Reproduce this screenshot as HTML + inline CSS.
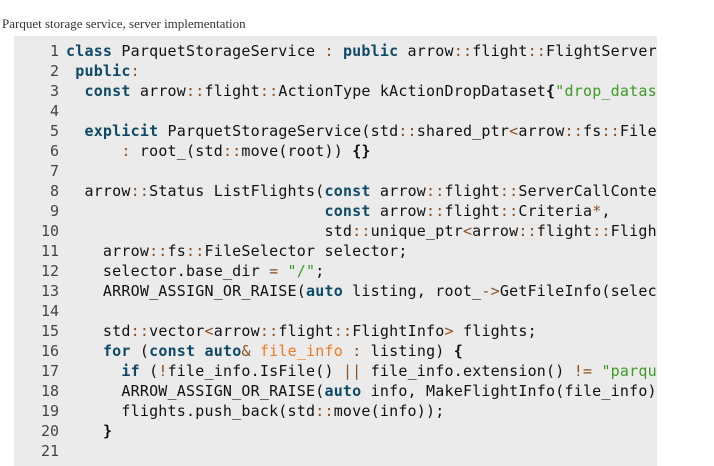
<!DOCTYPE html>
<html><head><meta charset="utf-8"><style>
html,body{margin:0;padding:0;background:#fff;width:714px;height:457px;overflow:hidden}
.cap{position:absolute;left:2px;top:16px;font:13px "Liberation Serif",serif;color:#333;white-space:nowrap}
.code{position:absolute;left:14px;top:36px;width:643px;height:430px;background:#ebebeb;overflow:hidden}
pre{margin:0;position:absolute;left:0;top:5px;font:15px/20px "DejaVu Sans Mono",monospace;letter-spacing:0.2px;color:#111;white-space:pre}
.n{display:inline-block;width:45px;text-align:right;color:#444;margin-right:7px;letter-spacing:0}
.k{color:#0e4a66;font-weight:bold}
.o{color:#8a4f22}
.s{color:#3f9a24}
.v{color:#f07a1f}
.b{font-weight:bold}
</style></head><body>
<div class="cap">Parquet storage service, server implementation</div>
<div class="code"><pre><span class="n">1</span><span class="k">class</span> ParquetStorageService <span class="o">:</span> <span class="k">public</span> arrow<span class="o">::</span>flight<span class="o">::</span>FlightServerBase <span class="b">{</span>
<span class="n">2</span> <span class="k">public</span><span class="o">:</span>
<span class="n">3</span>  <span class="k">const</span> arrow<span class="o">::</span>flight<span class="o">::</span>ActionType kActionDropDataset<span class="b">{</span><span class="s">"drop_dataset"</span>
<span class="n">4</span>
<span class="n">5</span>  <span class="k">explicit</span> ParquetStorageService(std<span class="o">::</span>shared_ptr<span class="o">&lt;</span>arrow<span class="o">::</span>fs<span class="o">::</span>FileSystem
<span class="n">6</span>      <span class="o">:</span> root_(std<span class="o">::</span>move(root)) <span class="b">{}</span>
<span class="n">7</span>
<span class="n">8</span>  arrow<span class="o">::</span>Status ListFlights(<span class="k">const</span> arrow<span class="o">::</span>flight<span class="o">::</span>ServerCallContext
<span class="n">9</span>                            <span class="k">const</span> arrow<span class="o">::</span>flight<span class="o">::</span>Criteria<span class="o">*</span>,
<span class="n">10</span>                            std<span class="o">::</span>unique_ptr<span class="o">&lt;</span>arrow<span class="o">::</span>flight<span class="o">::</span>FlightListing
<span class="n">11</span>    arrow<span class="o">::</span>fs<span class="o">::</span>FileSelector selector;
<span class="n">12</span>    selector.base_dir <span class="o">=</span> <span class="s">"/"</span>;
<span class="n">13</span>    ARROW_ASSIGN_OR_RAISE(<span class="k">auto</span> listing, root_<span class="o">-&gt;</span>GetFileInfo(selector
<span class="n">14</span>
<span class="n">15</span>    std<span class="o">::</span>vector<span class="o">&lt;</span>arrow<span class="o">::</span>flight<span class="o">::</span>FlightInfo<span class="o">&gt;</span> flights;
<span class="n">16</span>    <span class="k">for</span> (<span class="k">const</span> <span class="k">auto</span><span class="o">&amp;</span> <span class="v">file_info</span> <span class="o">:</span> listing) <span class="b">{</span>
<span class="n">17</span>      <span class="k">if</span> (<span class="o">!</span>file_info.IsFile() <span class="o">||</span> file_info.extension() <span class="o">!=</span> <span class="s">"parquet"</span>
<span class="n">18</span>      ARROW_ASSIGN_OR_RAISE(<span class="k">auto</span> info, MakeFlightInfo(file_info));
<span class="n">19</span>      flights.push_back(std<span class="o">::</span>move(info));
<span class="n">20</span>    <span class="b">}</span>
<span class="n">21</span>
</pre></div>
</body></html>
